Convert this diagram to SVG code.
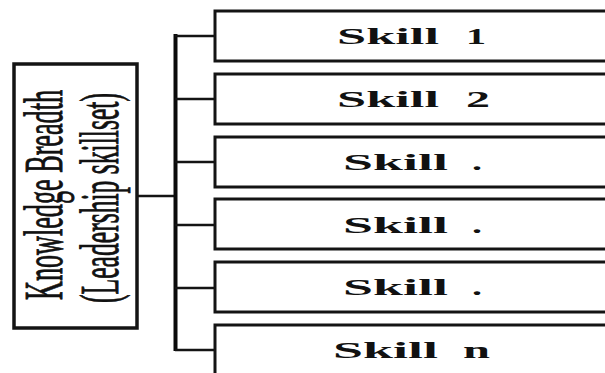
<svg xmlns="http://www.w3.org/2000/svg" width="605" height="373" viewBox="0 0 605 373">
  <style>
    .box { fill: #ffffff; stroke: #141414; stroke-width: 3; }
    .side { fill: #ffffff; stroke: #141414; stroke-width: 3.5; }
    .wire { stroke: #141414; stroke-width: 2.5; fill: none; }
    .bus { stroke: #0a0a0a; stroke-width: 4; fill: none; }
    .skill { font-family: "Liberation Serif", "Times New Roman", serif; font-weight: bold; font-size: 24px; fill: #111111; }
    .title { font-family: "Liberation Serif", "Times New Roman", serif; font-size: 30px; fill: #111111; stroke: #111111; stroke-width: 0.5; }
  </style>
  <rect width="605" height="373" fill="#ffffff"/>

  <!-- Connectors -->
  <g id="connectors">
    <line class="wire" x1="137" y1="196" x2="175" y2="196"/>
    <line class="bus" x1="175.5" y1="34" x2="175.5" y2="351"/>
    <line class="wire" x1="175" y1="36" x2="215" y2="36"/>
    <line class="wire" x1="175" y1="99" x2="215" y2="99"/>
    <line class="wire" x1="175" y1="162" x2="215" y2="162"/>
    <line class="wire" x1="175" y1="225" x2="215" y2="225"/>
    <line class="wire" x1="175" y1="288" x2="215" y2="288"/>
    <line class="wire" x1="175" y1="350" x2="215" y2="350"/>
  </g>

  <!-- Root node: vertical, tall condensed title -->
  <g id="knowledge-breadth">
    <rect class="side" x="14" y="64" width="123" height="264"/>
    <g transform="rotate(-90) scale(1,1.85)">
      <text class="title" x="-195" y="33.5" text-anchor="middle" textLength="210" lengthAdjust="spacingAndGlyphs">Knowledge Breadth</text>
      <text class="title" x="-198" y="63.8" text-anchor="middle" textLength="210" lengthAdjust="spacingAndGlyphs">(Leadership skillset)</text>
    </g>
  </g>

  <!-- Skill nodes -->
  <g id="skill-1">
    <rect class="box" x="215" y="11" width="400" height="50"/>
    <text class="skill" y="44"><tspan x="337" textLength="102" lengthAdjust="spacingAndGlyphs">Skill</tspan><tspan x="466" textLength="20" lengthAdjust="spacingAndGlyphs">1</tspan></text>
  </g>
  <g id="skill-2">
    <rect class="box" x="215" y="74" width="400" height="50"/>
    <text class="skill" y="107"><tspan x="337" textLength="102" lengthAdjust="spacingAndGlyphs">Skill</tspan><tspan x="466" textLength="24" lengthAdjust="spacingAndGlyphs">2</tspan></text>
  </g>
  <g id="skill-3">
    <rect class="box" x="215" y="137" width="400" height="50"/>
    <text class="skill" y="170"><tspan x="343" textLength="105" lengthAdjust="spacingAndGlyphs">Skill</tspan><tspan x="472" textLength="10" lengthAdjust="spacingAndGlyphs">.</tspan></text>
  </g>
  <g id="skill-4">
    <rect class="box" x="215" y="199" width="400" height="50"/>
    <text class="skill" y="233"><tspan x="343" textLength="105" lengthAdjust="spacingAndGlyphs">Skill</tspan><tspan x="472" textLength="10" lengthAdjust="spacingAndGlyphs">.</tspan></text>
  </g>
  <g id="skill-5">
    <rect class="box" x="215" y="262" width="400" height="50"/>
    <text class="skill" y="295"><tspan x="343" textLength="105" lengthAdjust="spacingAndGlyphs">Skill</tspan><tspan x="472" textLength="10" lengthAdjust="spacingAndGlyphs">.</tspan></text>
  </g>
  <g id="skill-n">
    <rect class="box" x="215" y="325" width="400" height="60"/>
    <text class="skill" y="358"><tspan x="333" textLength="105" lengthAdjust="spacingAndGlyphs">Skill</tspan><tspan x="463" textLength="27" lengthAdjust="spacingAndGlyphs">n</tspan></text>
  </g>
</svg>
